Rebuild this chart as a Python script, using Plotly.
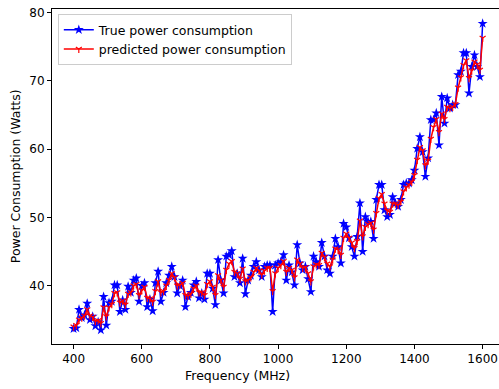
import plotly.graph_objects as go

freq = [400, 408, 416, 424, 432, 440, 448, 456, 464, 472,
        480, 488, 496, 504, 512, 520, 528, 536, 544, 552,
        560, 568, 576, 584, 592, 600, 608, 616, 624, 632,
        640, 648, 656, 664, 672, 680, 688, 696, 704, 712,
        720, 728, 736, 744, 752, 760, 768, 776, 784, 792,
        800, 808, 816, 824, 832, 840, 848, 856, 864, 872,
        880, 888, 896, 904, 912, 920, 928, 936, 944, 952,
        960, 968, 976, 984, 992, 1000, 1008, 1016, 1024, 1032,
        1040, 1048, 1056, 1064, 1072, 1080, 1088, 1096, 1104, 1112,
        1120, 1128, 1136, 1144, 1152, 1160, 1168, 1176, 1184, 1192,
        1200, 1208, 1216, 1224, 1232, 1240, 1248, 1256, 1264, 1272,
        1280, 1288, 1296, 1304, 1312, 1320, 1328, 1336, 1344, 1352,
        1360, 1368, 1376, 1384, 1392, 1400, 1408, 1416, 1424, 1432,
        1440, 1448, 1456, 1464, 1472, 1480, 1488, 1496, 1504, 1512,
        1520, 1528, 1536, 1544, 1552, 1560, 1568, 1576, 1584, 1592,
        1600]

true_power = [33.7, 33.8, 36.5, 35.3, 35.7, 37.4, 35.0, 35.5, 34.1, 34.7,
              33.5, 38.4, 34.2, 37.5, 37.7, 40.1, 40.1, 36.2, 37.9, 36.5,
              39.9, 39.0, 40.8, 41.1, 37.7, 40.0, 40.4, 36.9, 38.0, 36.3,
              40.4, 42.1, 37.7, 39.0, 40.4, 41.5, 42.8, 41.3, 38.9, 40.0,
              40.8, 36.9, 38.4, 39.0, 40.1, 40.6, 38.2, 38.9, 38.0, 41.8,
              41.8, 39.6, 37.2, 43.8, 40.8, 38.9, 44.3, 44.5, 45.1, 41.3,
              41.8, 40.4, 44.0, 38.8, 40.8, 41.5, 42.8, 43.5, 42.3, 41.3,
              42.8, 43.0, 43.0, 36.2, 43.0, 43.3, 43.5, 44.5, 40.8, 43.0,
              42.0, 40.1, 46.0, 43.3, 42.3, 42.8, 41.0, 39.1, 44.3, 43.5,
              42.8, 46.3, 44.3, 42.3, 41.8, 44.3, 46.9, 45.7, 43.3, 49.1,
              48.6, 47.0, 45.7, 44.3, 47.2, 52.1, 45.0, 50.1, 49.4, 49.4,
              46.9, 52.6, 54.8, 54.8, 51.1, 50.1, 50.4, 53.0, 52.1, 51.6,
              52.6, 54.8, 55.0, 55.0, 55.5, 56.9, 60.1, 61.8, 59.6, 56.0,
              58.7, 64.3, 64.3, 65.3, 60.6, 67.7, 63.8, 67.5, 66.0, 66.5,
              66.5, 70.9, 71.4, 74.1, 74.1, 68.2, 72.1, 73.8, 72.1, 70.6,
              78.4]

pred_power = [34.0, 34.2, 35.0, 35.3, 35.6, 36.5, 35.6, 35.4, 34.8, 34.9,
              34.5, 36.8, 35.5, 36.8, 37.3, 38.9, 39.0, 37.5, 37.8, 37.2,
              38.8, 39.0, 40.0, 40.2, 38.6, 39.3, 39.8, 38.2, 38.1, 37.6,
              39.2, 40.6, 39.0, 39.2, 40.0, 40.8, 41.8, 41.2, 40.0, 40.1,
              40.4, 38.6, 38.5, 38.8, 39.6, 40.0, 39.0, 39.0, 38.6, 40.2,
              40.6, 39.8, 38.6, 41.5, 40.8, 39.8, 42.3, 43.2, 43.6, 42.0,
              41.8, 41.0, 42.5, 40.6, 40.8, 41.2, 42.0, 42.6, 42.2, 41.6,
              42.2, 42.6, 42.6, 39.2, 41.8, 42.6, 43.0, 43.6, 42.0, 42.6,
              42.3, 41.2, 43.8, 43.2, 42.6, 42.7, 41.8, 40.6, 42.8, 43.1,
              43.0, 44.8, 44.2, 43.2, 42.8, 43.8, 45.4, 45.3, 44.5, 47.0,
              47.6, 47.0, 46.3, 45.5, 46.5, 49.5, 47.2, 48.6, 49.0, 49.2,
              48.2, 50.6, 52.8, 53.4, 52.0, 51.0, 50.8, 52.0, 52.0, 51.8,
              52.3, 53.8, 54.4, 54.8, 55.2, 56.2, 58.4, 60.3, 59.8, 57.6,
              58.3, 61.5, 63.2, 64.4, 62.5, 65.2, 64.4, 66.2, 66.0, 66.2,
              66.6, 69.0, 70.5, 72.3, 73.0, 70.4, 71.5, 72.8, 72.4, 71.6,
              76.3]

x_ticks = [400, 600, 800, 1000, 1200, 1400, 1600]
y_ticks = [40, 50, 60, 70, 80]

FONT = "DejaVu Sans"

fig = go.Figure()
fig.add_trace(go.Scatter(
    x=freq, y=true_power, mode="lines+markers",
    name="True power consumption",
    line=dict(color="#0000ff", width=1.5),
    marker=dict(symbol="star", size=7.5, color="#0000ff", line=dict(width=0)),
))
fig.add_trace(go.Scatter(
    x=freq, y=pred_power, mode="lines+markers",
    name="predicted power consumption",
    line=dict(color="#ff0000", width=1.5),
    marker=dict(symbol="y-down", size=5, color="#ff0000",
                line=dict(width=1.2, color="#ff0000")),
))

fig.update_layout(
    width=499, height=389,
    margin=dict(l=52, r=0, t=9, b=45, autoexpand=False),
    paper_bgcolor="white", plot_bgcolor="white",
    font=dict(family=FONT, size=12, color="black"),
    showlegend=True,
    legend=dict(
        x=0.013, y=0.985, xanchor="left", yanchor="top",
        bgcolor="rgba(255,255,255,0.8)", bordercolor="#cccccc", borderwidth=1,
        font=dict(family=FONT, size=12.5, color="black"),
        tracegroupgap=0, itemwidth=30,
    ),
    xaxis=dict(
        range=[336.7, 1648], tickvals=x_ticks, ticktext=[str(v) for v in x_ticks],
        automargin=False,
        showgrid=False, zeroline=False, showline=True, linecolor="black",
        linewidth=1, mirror=True, ticks="outside", ticklen=4, tickcolor="black",
        tickfont=dict(size=12),
    ),
    yaxis=dict(
        range=[31.46, 80.54], tickvals=y_ticks, ticktext=[str(v) for v in y_ticks],
        automargin=False,
        showgrid=False, zeroline=False, showline=True, linecolor="black",
        linewidth=1, mirror=False, ticks="outside", ticklen=4, tickcolor="black",
        tickfont=dict(size=12),
    ),
    annotations=[
        dict(text="Frequency (MHz)", xref="paper", yref="paper",
             x=0.414, y=-0.0955, xanchor="center", yanchor="middle",
             showarrow=False, font=dict(size=12.5)),
        dict(text="Power Consumption (Watts)", xref="paper", yref="paper",
             x=-0.0828, y=0.501, xanchor="center", yanchor="middle",
             textangle=-90, showarrow=False, font=dict(size=12.5)),
    ],
)

fig.write_html("out.html",
               config={"displayModeBar": False},
               post_script="document.body.style.margin='0px';document.body.style.overflow='hidden';")
